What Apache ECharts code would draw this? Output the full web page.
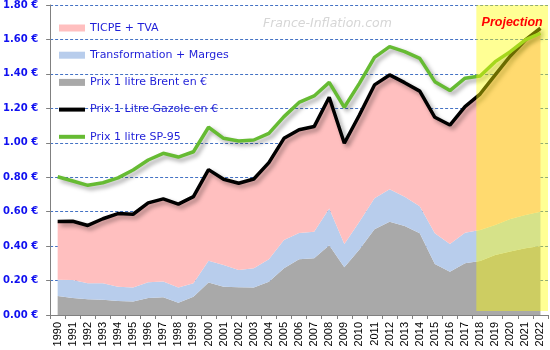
<!DOCTYPE html>
<html>
<head>
<meta charset="utf-8">
<script src="https://cdn.jsdelivr.net/npm/echarts@6/dist/echarts.min.js"></script>
<style>html,body{margin:0;padding:0;background:#fff}#c{width:550px;height:350px}</style>
</head>
<body>
<div id="c"></div>
<script>
var years = ['1990','1991','1992','1993','1994','1995','1996','1997','1998','1999','2000','2001','2002','2003','2004','2005','2006','2007','2008','2009','2010','2011','2012','2013','2014','2015','2016','2017','2018','2019','2020','2021','2022'];
var brent = [0.110,0.099,0.091,0.088,0.081,0.079,0.099,0.103,0.071,0.106,0.188,0.164,0.161,0.159,0.193,0.271,0.323,0.329,0.405,0.277,0.381,0.498,0.542,0.517,0.474,0.296,0.251,0.300,0.314,0.348,0.368,0.387,0.401];
var transformation = [0.095,0.104,0.093,0.096,0.083,0.081,0.091,0.091,0.089,0.078,0.127,0.126,0.100,0.112,0.130,0.165,0.153,0.155,0.214,0.135,0.161,0.180,0.188,0.170,0.157,0.178,0.161,0.178,0.180,0.175,0.189,0.194,0.199];
var taxes = [0.338,0.341,0.336,0.375,0.425,0.425,0.461,0.480,0.484,0.503,0.529,0.498,0.504,0.519,0.562,0.590,0.600,0.610,0.645,0.585,0.619,0.658,0.664,0.662,0.669,0.674,0.691,0.732,0.789,0.871,0.947,1.016,1.065];
var gazole = [0.543,0.544,0.520,0.559,0.589,0.585,0.651,0.674,0.644,0.687,0.844,0.788,0.765,0.790,0.885,1.026,1.076,1.094,1.264,0.997,1.161,1.336,1.394,1.349,1.300,1.148,1.103,1.210,1.283,1.394,1.504,1.597,1.665];
var sp95 = [0.803,0.778,0.753,0.768,0.796,0.842,0.900,0.939,0.917,0.948,1.090,1.026,1.010,1.016,1.055,1.152,1.234,1.272,1.351,1.206,1.345,1.496,1.558,1.529,1.490,1.355,1.303,1.375,1.388,1.471,1.529,1.597,1.636];
var yTicks = [0,0.2,0.4,0.6,0.8,1.0,1.2,1.4,1.6,1.8];

var chart = echarts.init(document.getElementById('c'), null, {renderer:'canvas'});
var shadow = {shadowColor:'rgba(0,0,0,0.35)', shadowBlur:4, shadowOffsetX:3, shadowOffsetY:3};
var lineIcon = 'path://M0 0H26V4H0Z';
function areaSeries(name, data, color){
  return {name:name, type:'line', stack:'prix', data:data, symbol:'none', smooth:false,
    lineStyle:{width:0, color:color}, itemStyle:{color:color}, areaStyle:{color:color, opacity:1}, z:1};
}
chart.setOption({
  animation:false,
  grid:{left:48, right:2, top:5, bottom:35},
  legend:{
    orient:'vertical', left:59, top:22.5, padding:0, itemWidth:26, itemHeight:7, itemGap:16.2,
    textStyle:{color:'#1f1fd8', fontFamily:'DejaVu Sans', fontSize:11},
    data:[
      {name:'TICPE + TVA', icon:'rect'},
      {name:'Transformation + Marges', icon:'rect'},
      {name:'Prix 1 litre Brent en €', icon:'rect'},
      {name:'Prix 1 Litre Gazole en €', icon:lineIcon},
      {name:'Prix 1 litre SP-95', icon:lineIcon}
    ]
  },
  xAxis:[{
    type:'category', data:years, boundaryGap:true,
    axisLine:{lineStyle:{color:'#808080'}},
    axisTick:{show:true, interval:0, length:4, lineStyle:{color:'#808080'}},
    axisLabel:{interval:0, rotate:90, margin:7, color:'#000', fontFamily:'Liberation Sans', fontSize:11},
    splitLine:{show:false}
  },{
    type:'value', min:0, max:33, show:false
  }],
  yAxis:{
    type:'value', min:yTicks[0], max:yTicks[yTicks.length-1], interval:0.2,
    axisLine:{show:true, lineStyle:{color:'#808080'}},
    axisTick:{show:true, length:4, lineStyle:{color:'#808080'}},
    axisLabel:{margin:12, color:'#1010f0', fontWeight:'bold', fontFamily:'DejaVu Sans', fontSize:10,
      formatter:function(v){return v.toFixed(2)+' €';}},
    splitLine:{show:true, lineStyle:{color:'#4472c4', type:[3,2], width:1}}
  },
  graphic:[{
    type:'text', left:263, top:17, z:5,
    style:{text:'France-Inflation.com', fill:'#d6d6d6', font:'italic 12.5px "DejaVu Sans"'}
  }],
  series:[
    areaSeries('Prix 1 litre Brent en €', brent, '#a9a9a9'),
    areaSeries('Transformation + Marges', transformation, '#b8cdec'),
    areaSeries('TICPE + TVA', taxes, '#ffbfbf'),
    {name:'Prix 1 Litre Gazole en €', type:'line', data:gazole, symbol:'none', z:3,
      lineStyle:Object.assign({width:3.5, color:'#000'}, shadow), itemStyle:{color:'#000'}},
    {name:'Prix 1 litre SP-95', type:'line', data:sp95, symbol:'none', z:3,
      lineStyle:Object.assign({width:3.5, color:'#66bb33'}, shadow), itemStyle:{color:'#66bb33'}},
    {name:'proj', type:'line', xAxisIndex:1, data:[], clip:false, z:10,
      markArea:{silent:true, z:10,
        itemStyle:{color:'rgba(255,255,0,0.42)'},
        label:{show:true, position:'insideTop', distance:11, formatter:'Projection',
          color:'#ff0000', fontWeight:'bold', fontStyle:'italic', fontFamily:'Liberation Sans', fontSize:12.5},
        data:[[{xAxis:28.25, yAxis:1.829},{xAxis:33, yAxis:0.023}]]
      }}
  ]
});
</script>
</body>
</html>
